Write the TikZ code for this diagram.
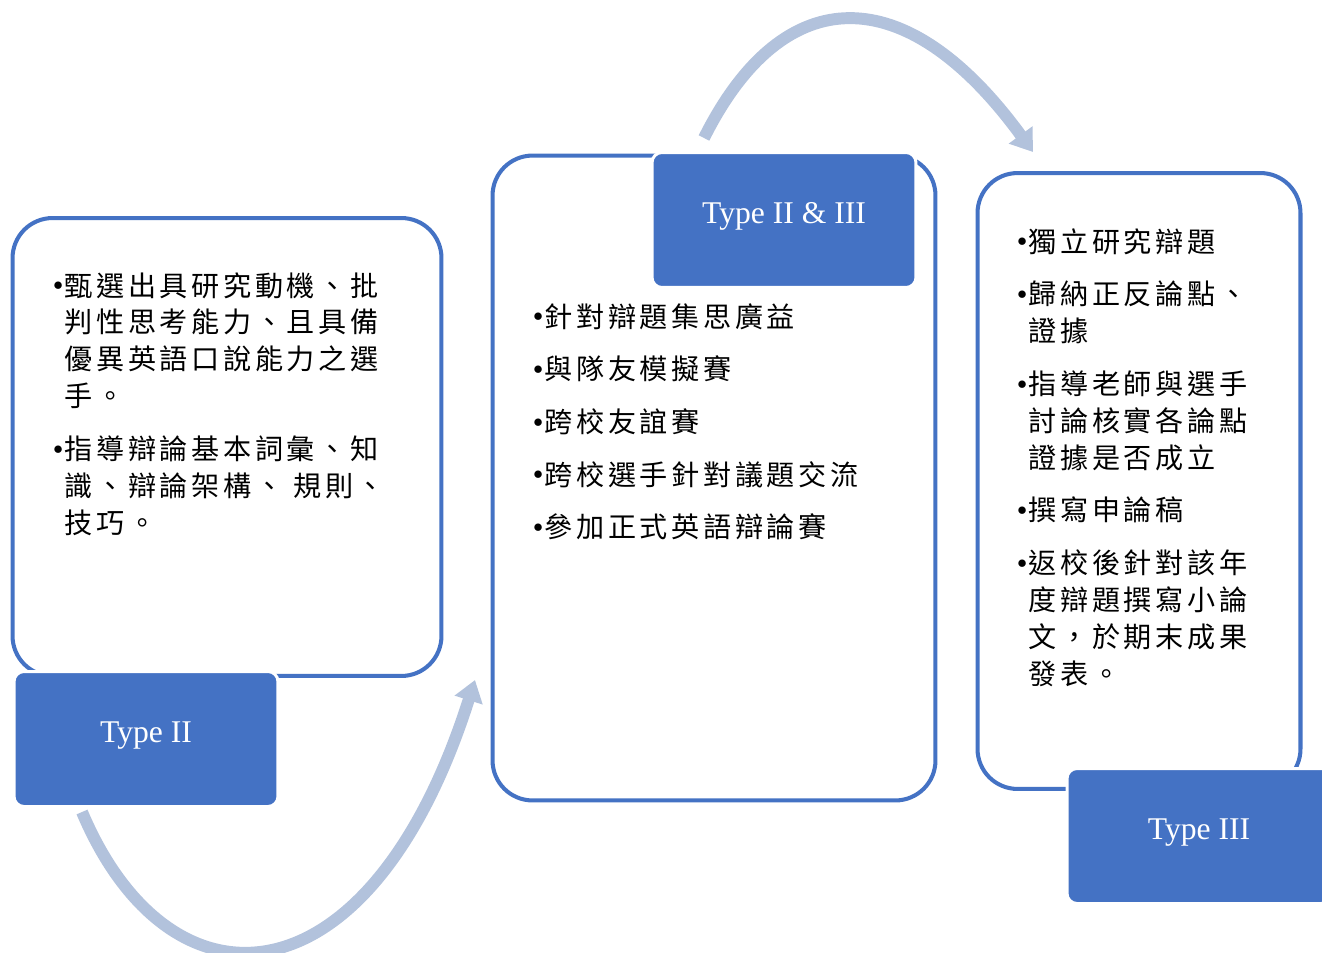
\documentclass[tikz,border=0pt]{standalone}
\usepackage{fontspec}
\usepackage{tikz}
\usetikzlibrary{arrows.meta}
\setmainfont{Liberation Serif}
\newfontfamily\cjk[LetterSpace=13]{Noto Sans CJK TC}
\definecolor{stepblue}{RGB}{68,114,196}
\definecolor{flowgray}{RGB}{178,194,220}
\newcommand{\itm}{\makebox[6.4pt][l]{\raisebox{3pt}{\fontsize{11}{11}\selectfont$\bullet$}}}
\newcommand{\ind}{\hspace*{6.4pt}}

\begin{document}
\begin{tikzpicture}[x=0.02cm, y=-0.02cm,
    box/.style={draw=stepblue, line width=2.3pt, rounded corners=0.8cm, fill=white},
    tag/.style={fill=stepblue, draw=white, line width=1.7pt, rounded corners=0.2cm,
        text=white, font=\fontsize{18}{20}\selectfont, text height=12pt, text depth=7.5pt,
        minimum width=5.28cm, minimum height=2.7cm},
    list/.style={anchor=north west, inner sep=0pt, align=left, font=\cjk\fontsize{16}{21}\selectfont},
    flow/.style={draw=flowgray, line width=6.8pt, -{Triangle[length=12pt,width=16pt]}}]
            \clip (0,0) rectangle (1322,953);
            % arrows behind
            \coordinate (a1s) at (82,812);
            \coordinate (a1e) at (475,680);
            \coordinate (a2s) at (704,138);
            \coordinate (a2e) at (1033,152);
            \draw [flow] (a1s) .. controls (170,1020) and (370,1010) .. (a1e);
            \draw [flow] (a2s) .. controls (784,-22) and (907,-21) .. (a2e);
            % boxes
            \node [box, minimum width=8.58cm, minimum height=9.16cm] (box1) at (227,447) {};
            \node [box, minimum width=8.86cm, minimum height=12.9cm] (box2) at (714,478) {};
            \node [box, minimum width=6.46cm, minimum height=12.32cm] (box3) at (1139,481) {};
            % texts
            \node [list] (list1) at (53,272) {\itm 甄選出具研究動機、批\\
                \ind 判性思考能力、且具備\\
                \ind 優異英語口說能力之選\\
                \ind 手。\\[9pt]
                \itm 指導辯論基本詞彙、知\\
                \ind 識、辯論架構、 規則、\\
                \ind 技巧。};
            \node [list] (list2) at (533,303) {\itm 針對辯題集思廣益\\[9pt]
                \itm 與隊友模擬賽\\[9pt]
                \itm 跨校友誼賽\\[9pt]
                \itm 跨校選手針對議題交流\\[9pt]
                \itm 參加正式英語辯論賽};
            \node [list] (list3) at (1017,228) {\itm 獨立研究辯題\\[9pt]
                \itm 歸納正反論點、\\
                \ind 證據\\[9pt]
                \itm 指導老師與選手\\
                \ind 討論核實各論點\\
                \ind 證據是否成立\\[9pt]
                \itm 撰寫申論稿\\[9pt]
                \itm 返校後針對該年\\
                \ind 度辯題撰寫小論\\
                \ind 文，於期末成果\\
                \ind 發表。};
            % tags
            \node [tag] (tag1) at (146,739) {Type II};
            \node [tag] (tag2) at (784,220) {Type II \& III};
            \node [tag] (tag3) at (1199,836) {Type III};
        \end{tikzpicture}
\end{document}
